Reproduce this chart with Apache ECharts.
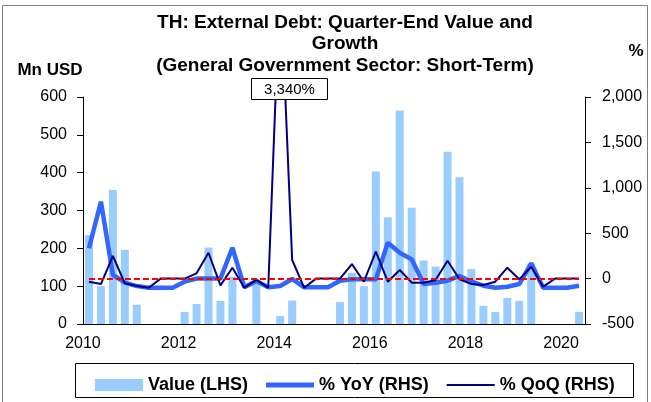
<!DOCTYPE html>
<html><head><meta charset="utf-8">
<script src="https://cdn.jsdelivr.net/npm/echarts@6/dist/echarts.min.js"></script>
<style>html,body{margin:0;padding:0;background:#fff}#c{width:651px;height:402px}</style>
</head><body><div id="c"></div>
<script>
const categories = [
  '2010Q1','2010Q2','2010Q3','2010Q4','2011Q1','2011Q2','2011Q3','2011Q4',
  '2012Q1','2012Q2','2012Q3','2012Q4','2013Q1','2013Q2','2013Q3','2013Q4',
  '2014Q1','2014Q2','2014Q3','2014Q4','2015Q1','2015Q2','2015Q3','2015Q4',
  '2016Q1','2016Q2','2016Q3','2016Q4','2017Q1','2017Q2','2017Q3','2017Q4',
  '2018Q1','2018Q2','2018Q3','2018Q4','2019Q1','2019Q2','2019Q3','2019Q4',
  '2020Q1','2020Q2'
];
const valueLHS = [
  235, 100, 354, 196, 51, null, null, null,
  32, 53, 202, 61, 125, null, 115, null,
  21, 62, null, null, null, 58, 135, 100,
  403, 282, 564, 307, 168, 152, 455, 388,
  145, 48, 32, 69, 61, 160, null, null,
  null, 32
];
const yoyRHS = [
  334, 847, 40, -45, -82, -100, -100, -100,
  -34, 0, 0, 0, 340, -96, -26, -96,
  -82, -4, -96, -96, -96, -23, -8, -8,
  -8, 395, 285, 212, -60, -45, -23, 29,
  -34, -78, -100, -89, -60, 168, -100, -100,
  -100, -78
];
const qoqRHS = [
  -34, -60, 249, -52, -82, -100, 0, 0,
  0, 58, 285, -74, 120, -100, -15, -100,
  3340, 205, -100, 0, 0, 0, 160, -34,
  297, -34, 95, -45, -45, -15, 197, -8,
  -60, -70, -34, 120, -8, 131, -89, 0,
  0, 0
];
const leftTicks = {min: 0, max: 600, interval: 100};
const rightTicks = {min: -500, max: 2000, interval: 500};
const spikeLabel = '3,340%';

const FONT = '"Liberation Sans", Arial, sans-serif';
const chart = echarts.init(document.getElementById('c'), null, {renderer: 'canvas'});
const fmt = v => Number(v).toLocaleString('en-US');

chart.setOption({
  animation: false,
  backgroundColor: '#fff',
  title: {
    text: 'TH: External Debt: Quarter-End Value and\nGrowth\n(General Government Sector: Short-Term)',
    left: 340, top: 7, textAlign: 'center',
    textStyle: {fontFamily: FONT, fontSize: 19, fontWeight: 'bold', color: '#000', lineHeight: 21.5}
  },
  grid: {left: 83, right: 66, top: 97, bottom: 78, containLabel: false},
  legend: {
    left: 90, top: 371, itemWidth: 48, itemHeight: 12, itemGap: 18,
    symbolKeepAspect: true,
    textStyle: {fontFamily: FONT, fontSize: 18, fontWeight: 'bold', color: '#000'},
    data: [
      {name: 'Value (LHS)', icon: 'rect'},
      {name: '% YoY (RHS)', icon: 'path://M0,0H48V5H0Z'},
      {name: '% QoQ (RHS)', icon: 'path://M0,0H48V2H0Z'}
    ]
  },
  xAxis: {
    type: 'category', data: categories, boundaryGap: true,
    axisLine: {lineStyle: {color: '#000', width: 1}},
    axisTick: {interval: 3, length: 6, lineStyle: {color: '#000'}},
    axisLabel: {
      interval: 7, margin: 12, padding: [0, 12, 0, 0],
      fontFamily: FONT, fontSize: 16, color: '#000',
      formatter: v => v.slice(0, 4)
    },
    splitLine: {show: false}
  },
  yAxis: [
    {
      type: 'value', position: 'left', min: leftTicks.min, max: leftTicks.max, interval: leftTicks.interval,
      axisLine: {show: true, lineStyle: {color: '#000'}},
      axisTick: {show: true, length: 6, lineStyle: {color: '#000'}},
      axisLabel: {margin: 16, fontFamily: FONT, fontSize: 16, color: '#000', formatter: fmt},
      splitLine: {show: false}
    },
    {
      type: 'value', position: 'right', min: rightTicks.min, max: rightTicks.max, interval: rightTicks.interval,
      axisLine: {show: true, lineStyle: {color: '#000'}},
      axisTick: {show: true, length: 6, lineStyle: {color: '#000'}},
      axisLabel: {margin: 17, fontFamily: FONT, fontSize: 16, color: '#000', formatter: fmt},
      splitLine: {show: false}
    }
  ],
  series: [
    {
      name: 'Value (LHS)', type: 'bar', yAxisIndex: 0, data: valueLHS,
      barWidth: 8, itemStyle: {color: '#99CCFF'}, z: 1
    },
    {
      name: '% YoY (RHS)', type: 'line', yAxisIndex: 1, data: yoyRHS,
      symbol: 'none', connectNulls: false,
      lineStyle: {color: '#3366FF', width: 4.5}, itemStyle: {color: '#3366FF'}, z: 3
    },
    {
      name: '% QoQ (RHS)', type: 'line', yAxisIndex: 1, data: qoqRHS,
      symbol: 'none',
      lineStyle: {color: '#000080', width: 2}, itemStyle: {color: '#000080'}, z: 4,
      markLine: {
        silent: true, symbol: 'none', label: {show: false}, z: 5,
        lineStyle: {color: '#FF0000', width: 2, type: [6, 3]},
        data: [[{coord: [0, 0]}, {coord: [categories.length - 1, 0]}]]
      }
    }
  ],
  graphic: [
    {type: 'rect', silent: true, z: -10, shape: {x: 2.5, y: 5.5, width: 645, height: 420},
     style: {fill: 'none', stroke: '#808080', lineWidth: 1}},
    {type: 'text', x: 50, y: 70, style: {text: 'Mn USD', font: 'bold 17px ' + FONT, fill: '#000', align: 'center', verticalAlign: 'middle'}},
    {type: 'text', x: 636, y: 51, style: {text: '%', font: 'bold 17px ' + FONT, fill: '#000', align: 'center', verticalAlign: 'middle'}},
    {type: 'rect', shape: {x: 251.5, y: 78.5, width: 76, height: 21},
     style: {fill: '#fff', stroke: '#000', lineWidth: 1}, z: 10},
    {type: 'text', x: 289.5, y: 89.5, z: 11, style: {text: spikeLabel, font: '15px ' + FONT, fill: '#000', align: 'center', verticalAlign: 'middle'}},
    {type: 'rect', silent: true, z: -5, shape: {x: 75.5, y: 363.5, width: 558, height: 34},
     style: {fill: 'none', stroke: '#000', lineWidth: 1}}
  ]
});
</script>
</body></html>
